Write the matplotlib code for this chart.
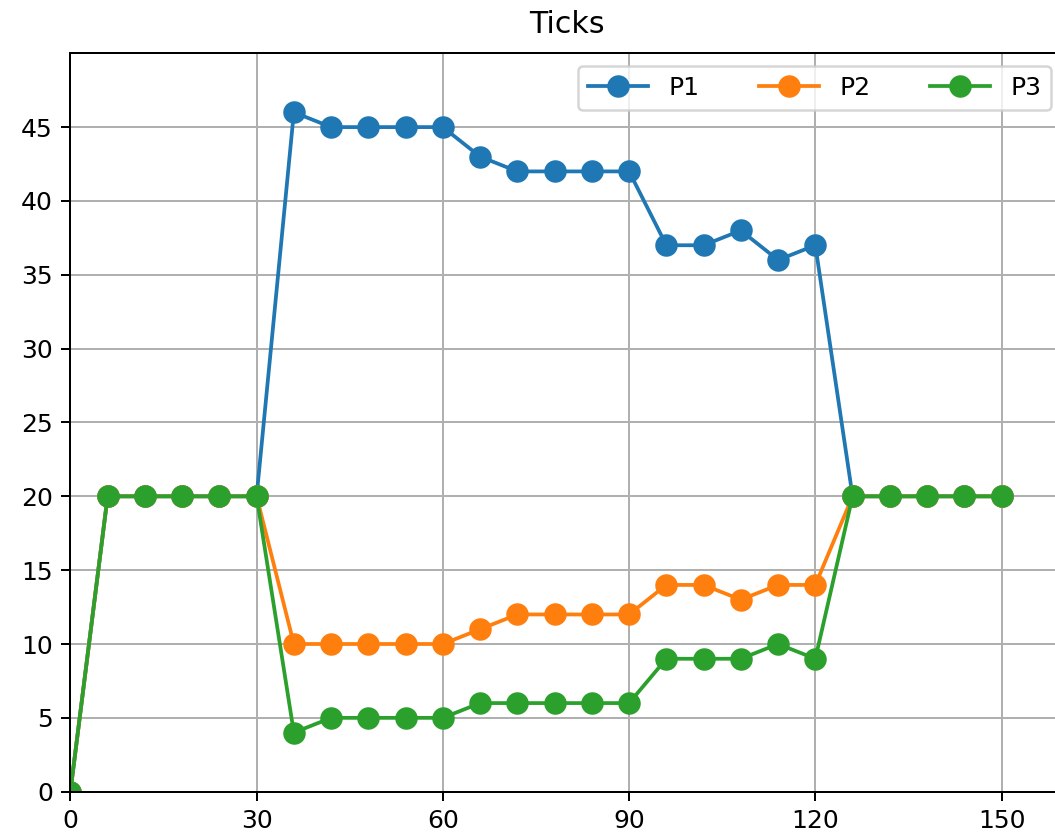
import numpy as np
from matplotlib import use
use('agg')
import matplotlib.pyplot as plt

# x positions (ticks)
x = list(range(0, 151, 6))

p1 = [0, 20, 20, 20, 20, 20, 46, 45, 45, 45, 45, 43, 42, 42, 42, 42,
      37, 37, 38, 36, 37, 20, 20, 20, 20, 20]
p2 = [0, 20, 20, 20, 20, 20, 10, 10, 10, 10, 10, 11, 12, 12, 12, 12,
      14, 14, 13, 14, 14, 20, 20, 20, 20, 20]
p3 = [0, 20, 20, 20, 20, 20, 4, 5, 5, 5, 5, 6, 6, 6, 6, 6,
      9, 9, 9, 10, 9, 20, 20, 20, 20, 20]

xticks = [0, 30, 60, 90, 120, 150]
yticks = list(range(0, 50, 5))

fig = plt.figure(figsize=(1055 / 180, 836 / 180), dpi=180)
ax = fig.add_axes([0.0667, 0.053, 0.9415, 0.8833])

ax.plot(x, p1, marker='o', markersize=8, label='P1')
ax.plot(x, p2, marker='o', markersize=8, label='P2')
ax.plot(x, p3, marker='o', markersize=8, label='P3')

ax.set_xlim(0, 160)
ax.set_ylim(0, 50)
ax.set_xticks(xticks)
ax.set_yticks(yticks)
ax.grid(True)
ax.set_title('Ticks', pad=8)
ax.legend(loc='upper right', ncol=3, handlelength=2.4, columnspacing=2.4)

fig.savefig('out.png', dpi=180)
